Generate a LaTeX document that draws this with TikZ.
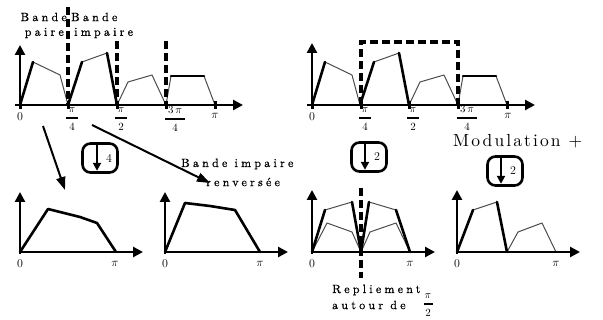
\documentclass[tikz,border=0pt]{standalone}
\usepackage{amsmath}
\usepackage{fontspec}
\usetikzlibrary{arrows.meta}
\newfontfamily\spaced{lmroman10-regular.otf}[LetterSpace=27,FakeBold=0.7]
\newfontfamily\modfont{lmroman10-regular.otf}[LetterSpace=12]
\newcommand\myfrac[3]{$\genfrac{}{}{1.6pt}{0}{\makebox[#1]{$#2$}}{#3}$}
\newcommand\topcurve{%
  \draw[thn] (33,62) -- (60,75) -- (68,105);
  \draw[thk] (20,105) -- (33,62);
  \draw[thn] (82,62) -- (107,53);
  \draw[thk] (68,105) -- (82,62);
  \draw[thk] (107,53) -- (117,105);
  \draw[thn] (117,105) -- (128,82) -- (152,75) -- (166,105);
  \draw[thn] (166,105) -- (171,76);
  \draw[thn] (204,76) -- (215,105);
  \draw[thk] (171,76) -- (204,76);
}
\begin{document}
\begin{tikzpicture}[x=1pt,y=-1pt,
  axis/.style={line width=2.6pt,-{Triangle[length=10pt,width=10pt]}},
  thk/.style={line width=2.6pt,line join=round,line cap=round},
  thn/.style={line width=1pt,black!70,line join=round},
  dsh/.style={line width=3.2pt,dash pattern=on 8pt off 4pt},
  tickm/.style={line width=3pt},
  lab/.style={inner sep=0pt,font=\fontsize{12}{12}\selectfont},
  flab/.style={inner sep=0pt,font=\fontsize{11}{11}\selectfont},
  txt/.style={inner sep=0pt,font=\fontsize{12}{13}\spaced},
  dsbox/.style={draw,line width=2.6pt,rounded corners=8pt,minimum width=35pt,minimum height=29pt,inner sep=0pt},
  dsarr/.style={line width=2.8pt,-{Triangle[length=8pt,width=8pt]}},
  conn/.style={line width=2pt,-{Triangle[length=13pt,width=9pt]}}
]
\useasboundingbox (0,0) rectangle (603,320);

% ---------- top-left panel ----------
\topcurve
\draw[axis] (15,105) -- (243,105);
\draw[axis] (20,108) -- (20,45);
\foreach \x in {20,68,117,166,215} \draw[tickm] (\x,101) -- (\x,109);
\draw[dsh] (68,7) -- (68,106);
\draw[dsh] (117,41) -- (117,106);
\draw[dsh] (166,41) -- (166,106);
\node[lab] (l0a) at (20,117) {0};
\node[flab] (l1a) at (72,119) {\myfrac{12pt}{\pi}{4}};
\node[flab] (l2a) at (121,119) {\myfrac{12pt}{\pi}{2}};
\node[flab] (l3a) at (175,119) {\myfrac{20pt}{3\,\pi}{4}};
\node[lab] (l4a) at (215,116) {$\pi$};
\node[txt,anchor=east] (bp1) at (67,17) {Bande};
\node[txt,anchor=east] (bp2) at (64,33) {paire};
\node[txt,anchor=west] (bi1) at (71,17) {Bande};
\node[txt,anchor=west] (bi2) at (74,33) {impaire};

% ---------- top-right panel ----------
\begin{scope}[xshift=292pt]
\topcurve
\end{scope}
\draw[axis] (307,105) -- (535,105);
\draw[axis] (312,108) -- (312,43);
\foreach \x in {312,361,409,458,507} \draw[tickm] (\x,101) -- (\x,109);
\draw[dsh] (361,105) -- (361,42) -- (458,42) -- (458,105);
\node[lab] (l0b) at (312,117) {0};
\node[flab] (l1b) at (365,119) {\myfrac{12pt}{\pi}{4}};
\node[flab] (l2b) at (413,119) {\myfrac{12pt}{\pi}{2}};
\node[flab] (l3b) at (467,118) {\myfrac{20pt}{3\,\pi}{4}};
\node[lab] (l4b) at (508,116) {$\pi$};

% ---------- labels and boxes ----------
\node[txt,anchor=west] (bir1) at (181,164) {Bande impaire};
\node[txt,anchor=west] (bir2) at (206,182) {renversée};
\node[inner sep=0pt,font=\fontsize{17.5}{18}\modfont,anchor=base west] (mod) at (453,146.5) {Modulation +};

\node[dsbox] (d4) at (100,158) {};
\draw[dsarr] ([xshift=-3pt]d4.north) -- ([xshift=-3pt,yshift=3pt]d4.south);
\node[lab] (d4n) at ([xshift=9pt]d4.center) {4};

\node[dsbox] (d2a) at (369,157) {};
\draw[dsarr] ([xshift=-4pt]d2a.north) -- ([xshift=-4pt,yshift=3pt]d2a.south);
\node[lab] (d2an) at ([xshift=8pt]d2a.center) {2};

\node[dsbox] (d2b) at (505,171) {};
\draw[dsarr] ([xshift=-4pt]d2b.north) -- ([xshift=-4pt,yshift=3pt]d2b.south);
\node[lab] (d2bn) at ([xshift=8pt]d2b.center) {2};

\coordinate (a1s) at (43,126);
\coordinate (a1e) at (65,190);
\draw[conn] (a1s) -- (a1e);
\coordinate (a2s) at (92,125);
\coordinate (a2e) at (210,183);
\draw[conn] (a2s) -- (a2e);

% ---------- bottom panel 1 ----------
\draw[thk] (20,252) -- (48,209) -- (80,217) -- (97,223) -- (116,252);
\draw[axis] (20,252) -- (143,252);
\draw[axis] (20,254) -- (20,192);
\node[lab] (l0c) at (20,264) {0};
\node[lab] (l4c) at (115,264) {$\pi$};

% ---------- bottom panel 2 ----------
\draw[thk] (165,252) -- (185,203) -- (210,206) -- (235,210) -- (260,252);
\draw[axis] (165,252) -- (288,252);
\draw[axis] (165,254) -- (165,192);
\node[lab] (l0d) at (165,264) {0};
\node[lab] (l4d) at (260,264) {$\pi$};

% ---------- bottom panel 3 ----------
\draw[thn] (312,252) -- (327,223) -- (352,232) -- (361,252) -- (370,232) -- (396,223) -- (410,252);
\draw[thn] (325,210) -- (352,202);
\draw[thn] (369,202) -- (396,210);
\draw[thk] (312,252) -- (325,210);
\draw[thk] (352,202) -- (361,252) -- (369,202);
\draw[thk] (396,210) -- (410,252);
\draw[axis] (312,252) -- (435,252);
\draw[axis] (312,254) -- (312,190);
\draw[dsh] (361,188) -- (361,278);
\node[lab] (l0e) at (312,264) {0};
\node[lab] (l4e) at (410,264) {$\pi$};
\node[txt,anchor=west] (rep1) at (332,290) {Repliement};
\node[txt,anchor=west] (rep2) at (332,305) {autour de};
\node[flab] (rep3) at (428,305) {\myfrac{9pt}{\pi}{2}};

% ---------- bottom panel 4 ----------
\draw[thn] (473,210) -- (497,202);
\draw[thn] (507,252) -- (518,232) -- (542,223) -- (556,252);
\draw[thk] (457,252) -- (473,210);
\draw[thk] (497,202) -- (507,252);
\draw[axis] (457,252) -- (580,252);
\draw[axis] (457,254) -- (457,190);
\node[lab] (l0f) at (457,264) {0};
\node[lab] (l4f) at (556,264) {$\pi$};
\end{tikzpicture}
\end{document}
